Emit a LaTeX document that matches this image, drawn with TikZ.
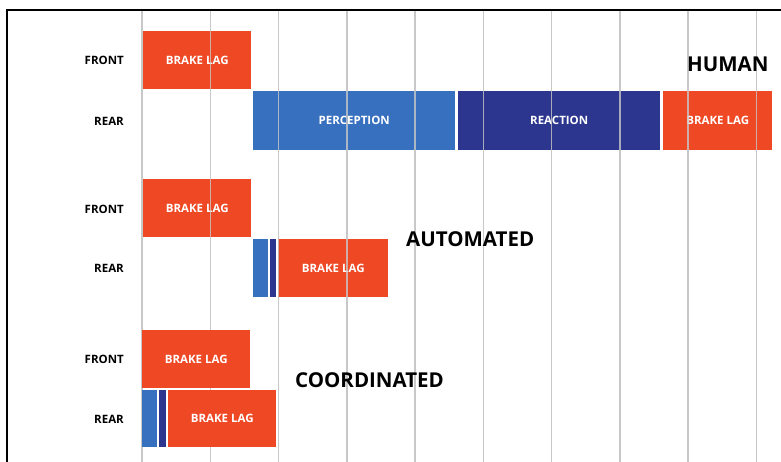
\documentclass[tikz,border=0pt]{standalone}
\usepackage{fontspec}
\setmainfont{Open Sans}
\definecolor{lagred}{RGB}{238,72,36}
\definecolor{percblue}{RGB}{56,112,192}
\definecolor{reacnavy}{RGB}{44,54,143}
\definecolor{gridgray}{RGB}{200,200,200}
\begin{document}
\begin{tikzpicture}[x=1pt,y=-1pt,
  bar/.style={anchor=north west,inner sep=0pt,minimum width=#1,text=white,font=\fontsize{11.5}{12}\selectfont\bfseries},
  lag/.style={fill=lagred},
  perc/.style={fill=percblue},
  reac/.style={fill=reacnavy},
  rowlab/.style={anchor=east,inner sep=0pt,font=\fontsize{11.5}{12}\selectfont\bfseries},
  biglab/.style={anchor=west,inner sep=0pt,font=\fontsize{20.5}{22}\selectfont\bfseries},
  gridline/.style={draw=gridgray,line width=1.5pt},
  frame/.style={draw=black,line width=2pt}]
\useasboundingbox (0,0) rectangle (781,462);
% grid behind
\foreach \i in {0,...,9} {
  \coordinate (gt\i) at ({142+68.25*\i},10);
  \coordinate (gb\i) at ({142+68.25*\i},462);
  \draw[gridline] (gt\i) -- (gb\i);
}
% HUMAN
\node[bar=108pt,minimum height=58pt,lag] (hf) at (143,31) {BRAKE LAG};
\node[bar=202pt,minimum height=59pt,perc] (hp) at (253,91) {PERCEPTION};
\node[bar=202pt,minimum height=59pt,reac] (hr) at (458,91) {REACTION};
\node[bar=109pt,minimum height=59pt,lag] (hl) at (663,91) {BRAKE LAG};
% AUTOMATED
\node[bar=108pt,minimum height=58pt,lag] (af) at (143,179) {BRAKE LAG};
\node[bar=15pt,minimum height=58pt,perc] (ap) at (253,239) {};
\node[bar=6pt,minimum height=58pt,reac] (ar) at (270,239) {};
\node[bar=110pt,minimum height=58pt,lag] (al) at (278,239) {BRAKE LAG};
% COORDINATED
\node[bar=108pt,minimum height=58pt,lag] (cf) at (142,330) {BRAKE LAG};
\node[bar=15pt,minimum height=57pt,perc] (cp) at (142,390) {};
\node[bar=7pt,minimum height=57pt,reac] (cr) at (159,390) {};
\node[bar=108pt,minimum height=57pt,lag] (cl) at (168,390) {BRAKE LAG};
% grid on top (upper groups)
\foreach \i in {0,...,9} {
  \coordinate (gm\i) at ({142+68.25*\i},305);
  \draw[gridline,draw opacity=0.8] (gt\i) -- (gm\i);
}
% frame
\coordinate (fl) at (7,462);
\coordinate (ftl) at (7,10);
\coordinate (ftr) at (781,10);
\draw[frame] (fl) -- (ftl) -- (ftr);
% row labels
\node[rowlab] (l1) at (124,60) {FRONT};
\node[rowlab] (l2) at (124,121) {REAR};
\node[rowlab] (l3) at (124,209) {FRONT};
\node[rowlab] (l4) at (124,268) {REAR};
\node[rowlab] (l5) at (124,359) {FRONT};
\node[rowlab] (l6) at (124,419) {REAR};
% group labels
\node[biglab] (hum) at (687,64) {HUMAN};
\node[biglab] (aut) at (406,239) {AUTOMATED};
\node[biglab] (coo) at (295,380) {COORDINATED};
\end{tikzpicture}
\end{document}
